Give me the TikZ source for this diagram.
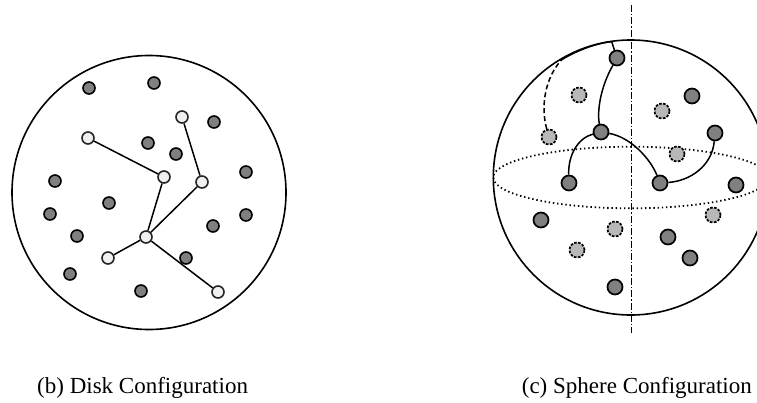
\documentclass[tikz,border=0pt]{standalone}
\usepackage{fontspec}
\setmainfont{Liberation Serif}
\begin{document}
\begin{tikzpicture}[x=1pt,y=-1pt,
  outline/.style={line width=1.6pt},
  edgeline/.style={line width=1.5pt},
  ddot/.style={circle, draw=black, line width=1.6pt, fill=black!50, minimum size=12pt, inner sep=0pt},
  wdot/.style={circle, draw=black!85, line width=1.6pt, fill=black!6, minimum size=12pt, inner sep=0pt},
  sdot/.style={circle, draw=black, line width=1.7pt, fill=black!50, minimum size=15pt, inner sep=0pt},
  bdot/.style={circle, draw=black, line width=1.7pt, dash pattern=on 2.6pt off 1.4pt, fill=black!28, minimum size=15pt, inner sep=0pt},
  caption/.style={font=\fontsize{23}{27}\selectfont, inner sep=0pt}
]
\useasboundingbox (0,0) rectangle (757,402);
\clip (0,0) rectangle (757,402);

% ---------- Disk ----------
\draw[outline] (149,192.5) circle[radius=137];

\node[ddot] (d1) at (89,88) {};
\node[ddot] (d2) at (154,83) {};
\node[wdot] (d3) at (182,117) {};
\node[ddot] (d4) at (214,122) {};
\node[wdot] (d5) at (88,138) {};
\node[ddot] (d6) at (148,143) {};
\node[ddot] (d7) at (176,154) {};
\node[wdot] (d8) at (164,177) {};
\node[wdot] (d9) at (202,182) {};
\node[ddot] (d10) at (246,172) {};
\node[ddot] (d11) at (55,181) {};
\node[ddot] (d12) at (109,203) {};
\node[ddot] (d13) at (50,214) {};
\node[ddot] (d14) at (246,215) {};
\node[ddot] (d15) at (213,226) {};
\node[wdot] (d16) at (146,237) {};
\node[ddot] (d17) at (77,236) {};
\node[wdot] (d18) at (108,258) {};
\node[ddot] (d19) at (186,258) {};
\node[ddot] (d20) at (70,274) {};
\node[ddot] (d21) at (141,291) {};
\node[wdot] (d22) at (218,292) {};

\draw[edgeline] (d5) -- (d8);
\draw[edgeline] (d3) -- (d9);
\draw[edgeline] (d8) -- (d16);
\draw[edgeline] (d9) -- (d16);
\draw[edgeline] (d16) -- (d18);
\draw[edgeline] (d16) -- (d22);

% ---------- Sphere ----------
\draw[outline] (630.8,177.5) circle[radius=137.5];
\draw[line width=1.8pt, dash pattern=on 1.4pt off 2.8pt] (630.8,177.5) ellipse[x radius=137.5, y radius=30.8];
\coordinate (axtop) at (631.7,5);
\coordinate (axbot) at (631.7,333);
\draw[line width=1.4pt, dash pattern=on 7pt off 2pt on 1.4pt off 2pt] (axtop) -- (axbot);

\node[sdot] (s1) at (617,58) {};
\node[bdot] (s2) at (579,95) {};
\node[sdot] (s3) at (692,96) {};
\node[bdot] (s4) at (662,111) {};
\node[sdot] (s5) at (601,132) {};
\node[sdot] (s6) at (715,133) {};
\node[bdot] (s7) at (549,137) {};
\node[bdot] (s8) at (677,154) {};
\node[sdot] (s9) at (569,183) {};
\node[sdot] (s10) at (660,183) {};
\node[sdot] (s11) at (736,185) {};
\node[sdot] (s12) at (541,220) {};
\node[bdot] (s13) at (713,215) {};
\node[bdot] (s14) at (615,229) {};
\node[sdot] (s15) at (668,237) {};
\node[bdot] (s16) at (577,250) {};
\node[sdot] (s17) at (690,258) {};
\node[sdot] (s18) at (615,287) {};

\coordinate (c1) at (562,59.5);
\coordinate (c2) at (611.7,41.7);
\draw[edgeline, dash pattern=on 5pt off 3pt] (s7) .. controls (540,105) and (546,76) .. (c1);
\draw[edgeline] (c1) .. controls (578,50) and (597,43) .. (c2) -- (s1);
\draw[edgeline] (s1) .. controls (600,88) and (597,112) .. (s5);
\draw[edgeline] (s9) .. controls (568,155) and (578,138) .. (s5);
\draw[edgeline] (s5) .. controls (630,137) and (650,158) .. (s10);
\draw[edgeline] (s10) .. controls (690,181) and (712,166) .. (s6);

% ---------- Captions ----------
\node[caption, anchor=base west] (capb) at (37,393) {(b) Disk Configuration};
\node[caption, anchor=base east] (capc) at (752,393) {(c) Sphere Configuration};
\end{tikzpicture}
\end{document}
